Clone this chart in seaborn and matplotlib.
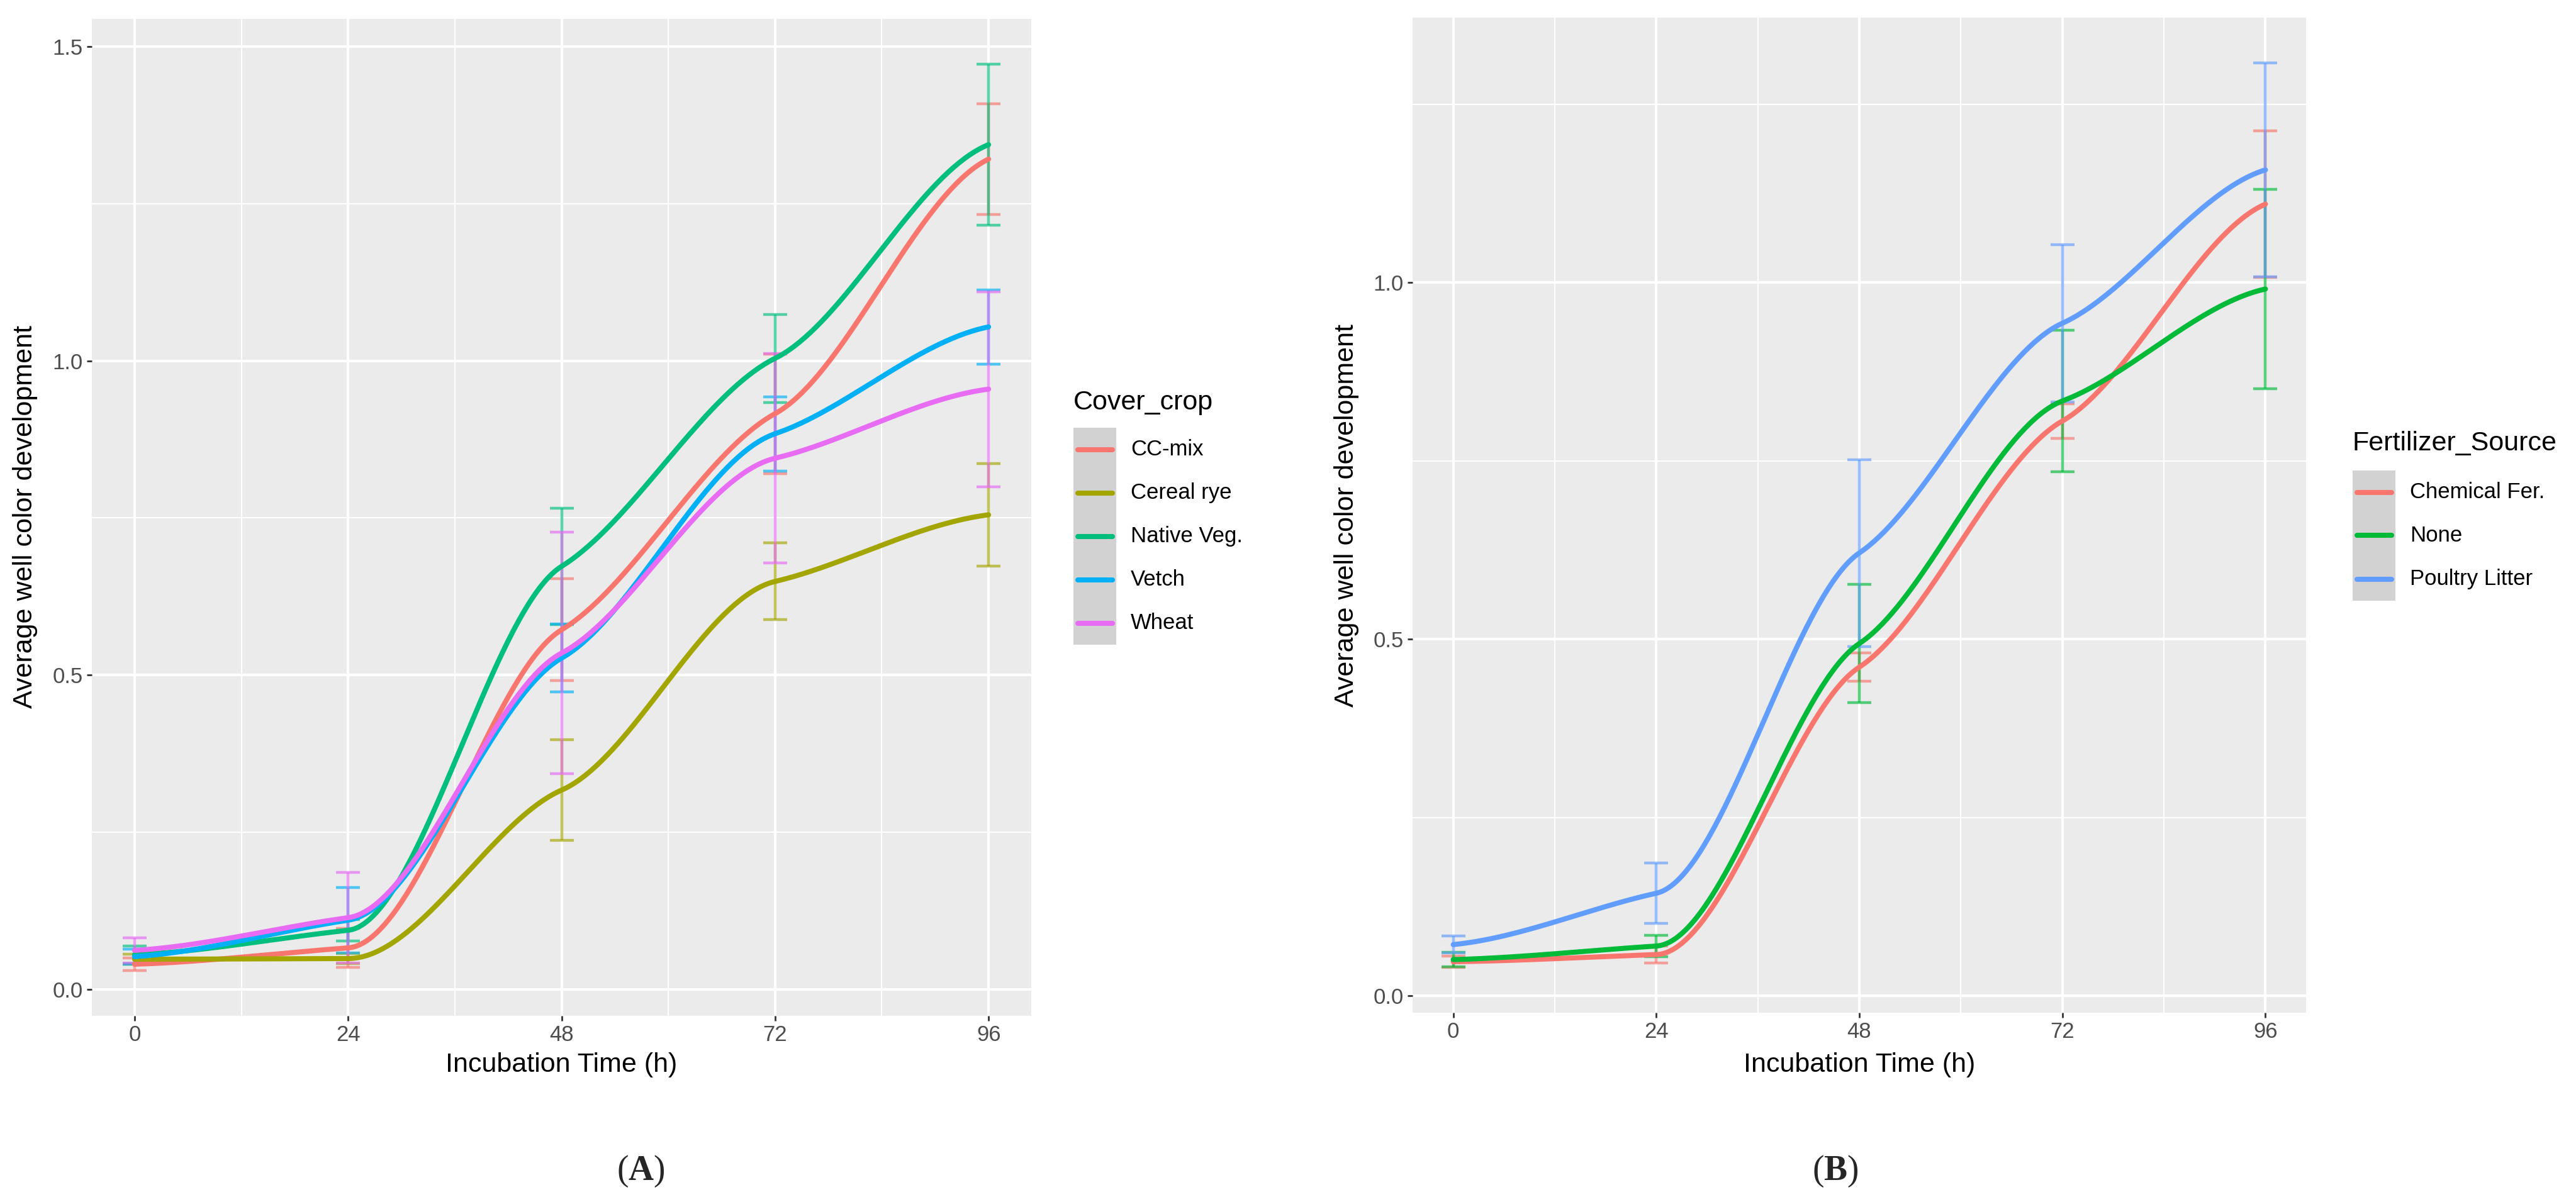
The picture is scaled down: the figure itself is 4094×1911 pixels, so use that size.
import numpy as np
import pandas as pd
import matplotlib
matplotlib.use("Agg")
import matplotlib.pyplot as plt
import seaborn as sns
from matplotlib.patches import Rectangle
from matplotlib.lines import Line2D

sns.set_theme(style="darkgrid")
plt.rcParams['font.family'] = ['Liberation Sans', 'DejaVu Sans']
plt.rcParams['mathtext.fontset'] = 'custom'
plt.rcParams['mathtext.rm'] = 'Liberation Serif'
plt.rcParams['mathtext.bf'] = 'Liberation Serif:bold'

hours = [0, 24, 48, 72, 96]

# (A) cover crops: means and error half-widths
cover_crops = ["CC-mix", "Cereal rye", "Native Veg.", "Vetch", "Wheat"]
cc_mix = [0.040, 0.066, 0.572, 0.916, 1.321]
cc_mix_err = [0.010, 0.031, 0.081, 0.095, 0.088]
cereal_rye = [0.048, 0.049, 0.317, 0.649, 0.755]
cereal_rye_err = [0.008, 0.008, 0.080, 0.061, 0.082]
native_veg = [0.055, 0.094, 0.673, 1.004, 1.344]
native_veg_err = [0.014, 0.017, 0.093, 0.070, 0.128]
vetch = [0.052, 0.110, 0.527, 0.884, 1.054]
vetch_err = [0.012, 0.052, 0.054, 0.059, 0.059]
wheat = [0.062, 0.114, 0.535, 0.845, 0.955]
wheat_err = [0.020, 0.072, 0.192, 0.167, 0.155]
cover_colors = ["#F8766D", "#A3A500", "#00BF7D", "#00B0F6", "#E76BF3"]

# (B) fertilizer sources
fert_sources = ["Chemical Fer.", "None", "Poultry Litter"]
chemical = [0.048, 0.058, 0.461, 0.806, 1.110]
chemical_err = [0.008, 0.012, 0.020, 0.024, 0.103]
no_fert = [0.051, 0.070, 0.494, 0.834, 0.991]
no_fert_err = [0.010, 0.015, 0.083, 0.099, 0.140]
poultry = [0.072, 0.144, 0.621, 0.943, 1.158]
poultry_err = [0.012, 0.042, 0.131, 0.110, 0.150]
fert_colors = ["#F8766D", "#00BA38", "#619CFF"]

W, H = 4094, 1911
BG = "#EBEBEB"
BASE, SMALL = 31, 25


def smooth(x, y, k=0.5, k_end=0.4, n=80):
    # cubic hermite through the means, damped tangents give the shoulders
    x = np.asarray(x, float)
    y = np.asarray(y, float)
    d = np.diff(y) / np.diff(x)
    m = np.zeros_like(y)
    for i in range(1, len(y) - 1):
        a, b = d[i - 1], d[i]
        if a * b > 0:
            m[i] = k * 2 * a * b / (a + b)
    m[0] = k_end * d[0]
    m[-1] = k_end * d[-1]
    xs, ys = [], []
    for i in range(len(x) - 1):
        h = x[i + 1] - x[i]
        t = np.linspace(0, 1, n, endpoint=(i == len(x) - 2))
        h00 = 2 * t**3 - 3 * t**2 + 1
        h10 = t**3 - 2 * t**2 + t
        h01 = -2 * t**3 + 3 * t**2
        h11 = t**3 - t**2
        xs.append(x[i] + t * h)
        ys.append(h00 * y[i] + h10 * h * m[i] + h01 * y[i + 1] + h11 * h * m[i + 1])
    return np.concatenate(xs), np.concatenate(ys)


def draw_panel(ax, names, means, errs, colors, yticks, yminor):
    rows = []
    for name, mu in zip(names, means):
        xs, ys = smooth(hours, mu)
        rows.append(pd.DataFrame({"hour": xs, "value": ys, "group": name}))
    df = pd.concat(rows, ignore_index=True)

    for name, mu, e, c in zip(names, means, errs, colors):
        ax.errorbar(hours, mu, yerr=e, fmt="none", ecolor=c, elinewidth=3.2,
                    capsize=14, capthick=3.2, alpha=0.65, zorder=2)
    sns.lineplot(data=df, x="hour", y="value", hue="group", hue_order=names,
                 palette=colors, linewidth=5.8, legend=False, sort=False,
                 estimator=None, ax=ax, zorder=3)

    lo = min(np.min(np.array(m) - np.array(e)) for m, e in zip(means, errs))
    hi = max(np.max(np.array(m) + np.array(e)) for m, e in zip(means, errs))
    pad = (hi - lo) * 0.05
    ax.set_ylim(lo - pad, hi + pad)
    ax.set_xlim(-4.8, 100.8)

    ax.set_facecolor(BG)
    ax.set_xticks(hours)
    ax.set_xticklabels([str(h) for h in hours])
    ax.set_xticks([12, 36, 60, 84], minor=True)
    ax.set_yticks(yticks)
    ax.set_yticklabels([f"{v:.1f}" for v in yticks])
    ax.set_yticks(yminor, minor=True)
    ax.grid(which="major", color="white", linewidth=3.0)
    ax.grid(which="minor", color="white", linewidth=1.5)
    ax.tick_params(which="major", length=6, width=2, color="#333333",
                   labelsize=SMALL, labelcolor="#4D4D4D", pad=4,
                   bottom=True, left=True)
    ax.tick_params(which="minor", length=0)
    for s in ax.spines.values():
        s.set_visible(False)
    ax.set_xlabel("")
    ax.set_ylabel("")


def draw_legend(fig, title, names, colors, x0, title_y, top):
    step = 69
    fig.text(x0 / W, 1 - title_y / H, title, fontsize=BASE, ha="left",
             va="center", color="black")
    fig.add_artist(Rectangle((x0 / W, 1 - (top + step * len(names)) / H),
                             68 / W, step * len(names) / H,
                             transform=fig.transFigure, facecolor="#D2D2D2",
                             edgecolor="none"))
    for i, (nm, c) in enumerate(zip(names, colors)):
        yc = 1 - (top + step * (i + 0.5)) / H
        fig.add_artist(Line2D([(x0 + 7) / W, (x0 + 62) / W], [yc, yc],
                              transform=fig.transFigure, color=c,
                              linewidth=5.8))
        fig.text((x0 + 91) / W, yc, nm, fontsize=SMALL, ha="left",
                 va="center", color="black")


fig = plt.figure(figsize=(W / 100, H / 100), dpi=100)
fig.patch.set_facecolor("white")

axA = fig.add_axes([146 / W, 1 - 1615 / H, 1493 / W, 1585 / H])
draw_panel(axA, cover_crops, [cc_mix, cereal_rye, native_veg, vetch, wheat],
           [cc_mix_err, cereal_rye_err, native_veg_err, vetch_err, wheat_err],
           cover_colors, [0.0, 0.5, 1.0, 1.5], [0.25, 0.75, 1.25])

axB = fig.add_axes([2245 / W, 1 - 1610 / H, 1420 / W, 1582 / H])
draw_panel(axB, fert_sources, [chemical, no_fert, poultry],
           [chemical_err, no_fert_err, poultry_err],
           fert_colors, [0.0, 0.5, 1.0], [0.25, 0.75, 1.25])

# axis titles
for xc in [(146 + 1639) / 2, (2245 + 3665) / 2]:
    fig.text(xc / W, 1 - 1693 / H, "Incubation Time (h)", fontsize=BASE,
             ha="center", va="center", color="black")
fig.text(40 / W, 1 - 822 / H, "Average well color development", fontsize=BASE,
         rotation=90, ha="center", va="center", color="black")
fig.text(2140 / W, 1 - 819 / H, "Average well color development", fontsize=BASE,
         rotation=90, ha="center", va="center", color="black")

draw_legend(fig, "Cover_crop", cover_crops, cover_colors, 1706, 640, 680)
draw_legend(fig, "Fertilizer_Source", fert_sources, fert_colors, 3739, 705, 748)

fig.text(1018 / W, 1 - 1862 / H, r"($\mathbf{A}$)", fontsize=40,
         family="Liberation Serif", ha="center", va="center")
fig.text(2917 / W, 1 - 1862 / H, r"($\mathbf{B}$)", fontsize=40,
         family="Liberation Serif", ha="center", va="center")

fig.savefig("out.png", dpi=100, facecolor="white")
